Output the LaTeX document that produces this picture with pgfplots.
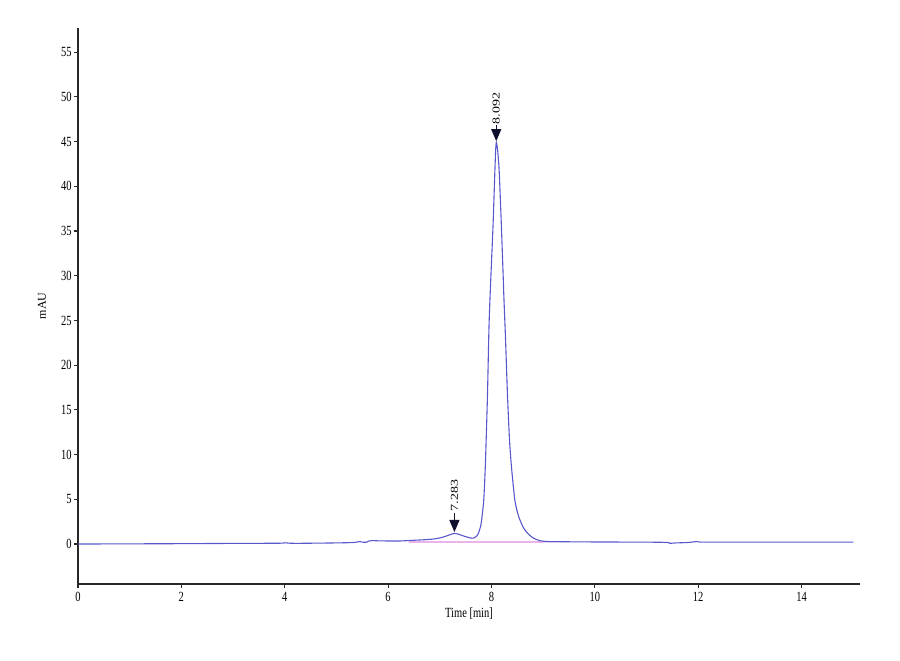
\documentclass[border=0pt]{standalone}
\usepackage{fontspec}
\setmainfont[FakeStretch=0.75]{Liberation Serif}
\newfontfamily\annfont{Liberation Serif}
\usepackage{graphicx}
\usepackage{pgfplots}
\pgfplotsset{compat=1.18}
\usetikzlibrary{arrows.meta}

\definecolor{trace}{RGB}{88,88,205}
\definecolor{basel}{RGB}{222,140,222}
\definecolor{axgray}{RGB}{40,40,40}
\definecolor{arrowc}{RGB}{15,15,45}

\begin{document}
\begin{tikzpicture}
\useasboundingbox (0,0) rectangle (450pt,330pt);
\begin{axis}[
    at={(39pt,38pt)}, anchor=south west,
    scale only axis,
    width=391pt, height=278pt,
    xmin=0, xmax=15.13,
    ymin=-4.47, ymax=57.7,
    axis x line=bottom, axis y line=left,
    axis line style={-, axgray},
    x axis line style={line width=1.4pt},
    y axis line style={line width=0.9pt},
    xtick={0,2,...,14},
    ytick={0,5,...,55},
    tick align=outside,
    major tick length=2pt,
    tick style={axgray, line width=0.6pt},
    ticklabel style={font=\fontsize{7}{8}\selectfont},
    xticklabel style={inner sep=1pt, yshift=-1pt},
    yticklabel style={inner sep=1pt},
    /pgf/number format/assume math mode=true,
    xlabel={Time [min]},
    x label style={at={(axis description cs:0.5,0)}, anchor=north, inner sep=0pt, yshift=-11.5pt, font=\fontsize{7}{8}\selectfont},
    ylabel={mAU},
    y label style={at={(axis description cs:-0.046,0.5)}, anchor=center, font=\annfont\fontsize{6}{7}\selectfont},
]

% integration baseline
\addplot[basel, line width=0.6pt] coordinates {(6.4,0.22) (9.3,0.24)};

% chromatogram trace
\addplot[trace, line width=0.55pt, smooth, tension=0.4] coordinates {
    (0,0.0) (1,0.02) (2,0.04) (3,0.07) (3.9,0.09) (4.0,0.14) (4.1,0.09)
    (4.3,0.08) (4.94,0.12) (5.3,0.16) (5.36,0.19) (5.45,0.27) (5.52,0.2)
    (5.58,0.2) (5.62,0.32) (5.7,0.38) (5.8,0.36) (6.0,0.34) (6.23,0.34)
    (6.5,0.42) (6.7,0.48) (6.87,0.55) (7.0,0.68) (7.1,0.84) (7.2,1.05)
    (7.283,1.18) (7.35,1.12) (7.45,0.92) (7.55,0.74) (7.62,0.65) (7.66,0.68)
    (7.70,0.82) (7.74,1.1) (7.76,1.4) (7.79,2.0) (7.81,2.7) (7.85,4.9)
    (7.88,8.6) (7.92,16.1) (7.95,23.9) (7.97,27.3) (8.00,31.5) (8.03,35.6)
    (8.05,39.0) (8.07,42.4) (8.08,44.0) (8.092,44.9) (8.10,44.8) (8.12,44.0)
    (8.15,41.6) (8.19,35.8) (8.22,31.0) (8.24,27.6) (8.27,23.2) (8.31,16.6)
    (8.35,11.5) (8.39,8.4) (8.45,5.0) (8.50,3.6) (8.55,2.7) (8.62,1.8)
    (8.70,1.2) (8.80,0.7) (8.94,0.37) (9.1,0.28) (9.5,0.25) (10,0.23)
    (11,0.21) (11.4,0.18) (11.45,0.08) (11.55,0.12) (11.8,0.17) (11.97,0.27)
    (12.1,0.21) (13,0.22) (14,0.22) (15,0.22)
};

% peak annotations
\draw[arrowc, line width=0.5pt, -{Triangle[width=5pt,length=6pt]}]
    (axis cs:8.092,46.8) -- (axis cs:8.092,45.05);
\draw[arrowc, line width=0.5pt, -{Triangle[width=5pt,length=6pt]}]
    (axis cs:7.283,3.5) -- (axis cs:7.283,1.35);
\node[rotate=90, anchor=west, inner sep=0.5pt, font=\annfont\fontsize{7}{8}\selectfont]
    at (axis cs:8.092,46.8) {\scalebox{1}[0.75]{8.092}};
\node[rotate=90, anchor=west, inner sep=0.5pt, font=\annfont\fontsize{7}{8}\selectfont]
    at (axis cs:7.283,3.5) {\scalebox{1}[0.75]{7.283}};

\end{axis}
\end{tikzpicture}
\end{document}
